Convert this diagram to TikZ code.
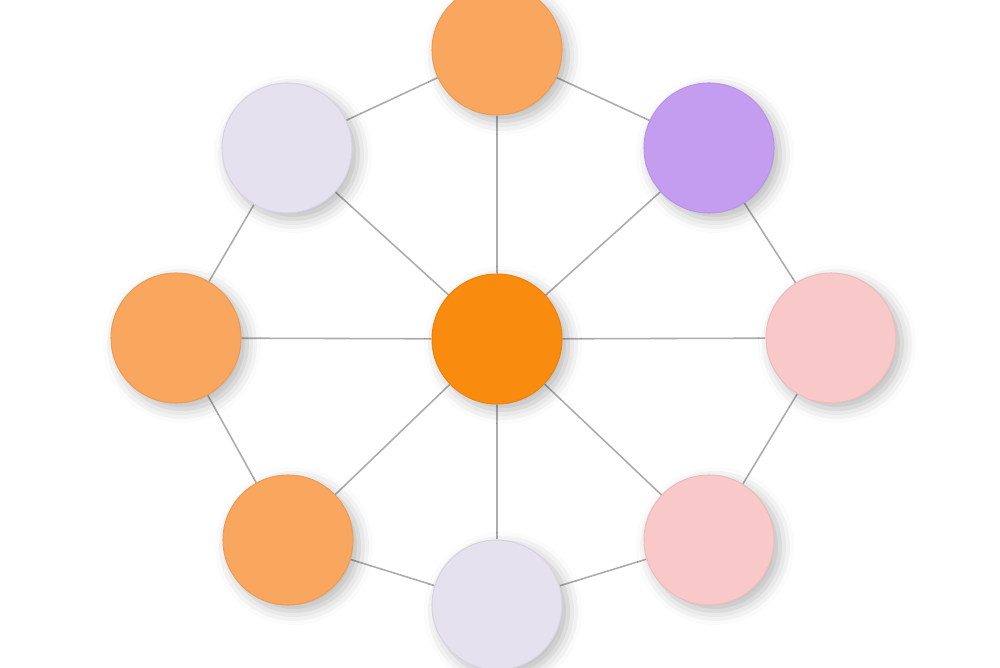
\documentclass[tikz,border=0pt]{standalone}
\usetikzlibrary{positioning, shadows.blur, backgrounds}

\definecolor{hubOrange}{HTML}{F98B0E}
\definecolor{softOrange}{HTML}{F9A65E}
\definecolor{softPurple}{HTML}{C49DF1}
\definecolor{softLilac}{HTML}{E5E1EF}
\definecolor{softPink}{HTML}{F8C9C8}

\begin{document}
\begin{tikzpicture}[
	disc/.style={circle, minimum size=1.3cm, inner sep=0pt, fill=#1, draw=#1!94!black, line width=0.3pt,
		blur shadow={shadow xshift=0.06cm, shadow yshift=-0.06cm, shadow blur radius=0.14cm, shadow opacity=28}},
	link/.style={draw=gray!65, line width=0.45pt}
]
	\useasboundingbox (0, 0) rectangle (10, 6.67);
	\clip (0, 0) rectangle (10, 6.67);
	% the hub and the eight discs round it
	\node[disc=hubOrange] (hub) at (4.97, 3.28) {};
	\node[disc=softOrange] (top) at (4.97, 6.17) {};
	\node[disc=softPurple] (topright) at (7.09, 5.19) {};
	\node[disc=softPink] (right) at (8.31, 3.29) {};
	\node[disc=softPink] (botright) at (7.09, 1.27) {};
	\node[disc=softLilac] (bottom) at (4.97, 0.62) {};
	\node[disc=softOrange] (botleft) at (2.88, 1.27) {};
	\node[disc=softOrange] (left) at (1.76, 3.29) {};
	\node[disc=softLilac] (topleft) at (2.87, 5.19) {};
	\begin{scope}[on background layer]
		\foreach \n in {top, topright, right, botright, bottom, botleft, left, topleft}
			\draw[link] (hub) -- (\n);
		\foreach \a/\b in {top/topright, topright/right, right/botright, botright/bottom, bottom/botleft, botleft/left, left/topleft, topleft/top}
			\draw[link] (\a) -- (\b);
	\end{scope}
\end{tikzpicture}
\end{document}
